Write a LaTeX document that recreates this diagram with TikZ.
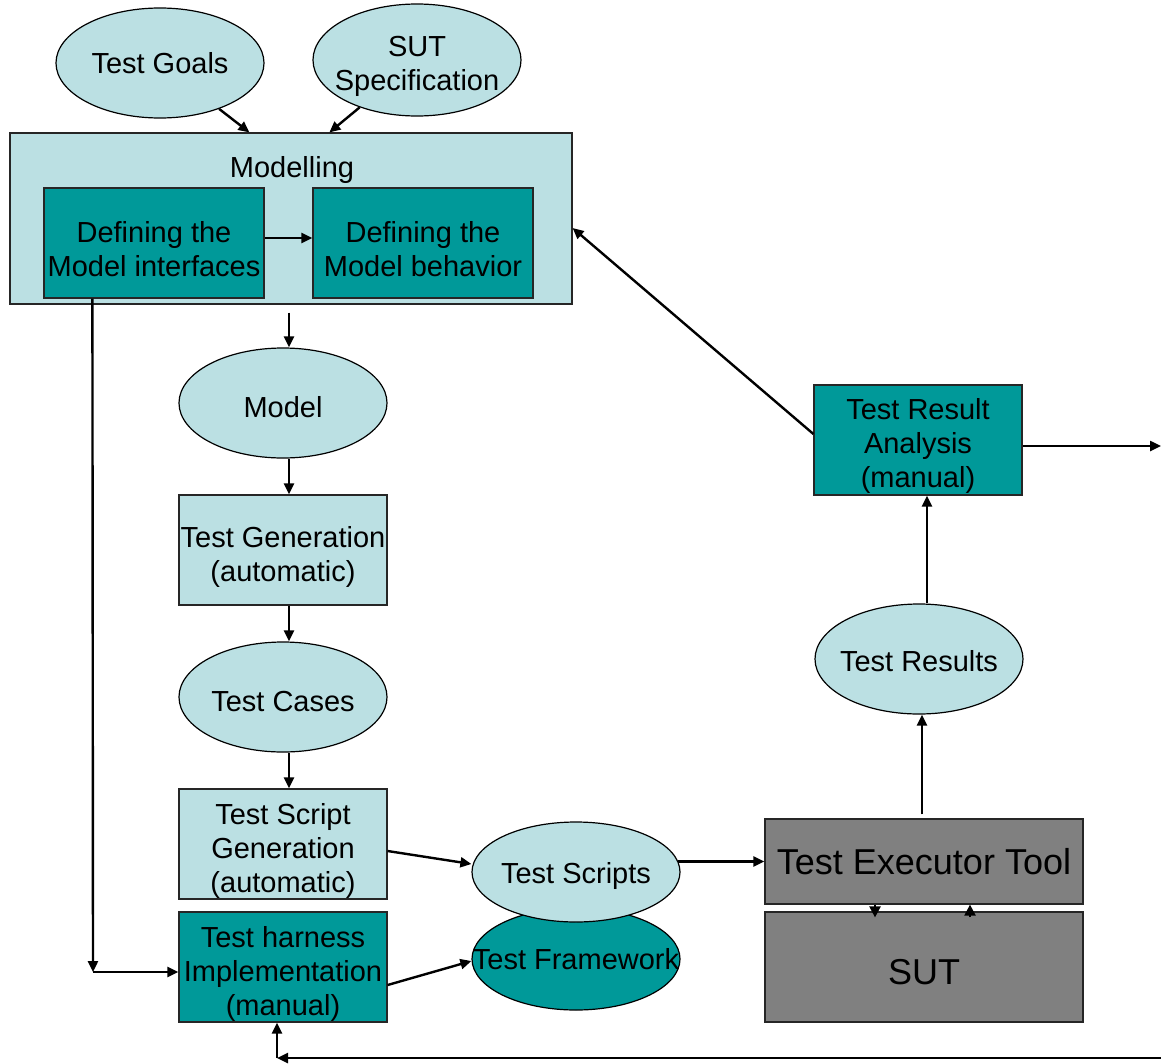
\documentclass[tikz,border=0pt]{standalone}
\usepackage{fontspec}
\setmainfont{Liberation Sans}
\usetikzlibrary{shapes.geometric,arrows.meta}
\definecolor{lightc}{HTML}{BBE0E3}
\definecolor{tealc}{HTML}{009999}
\definecolor{grayc}{HTML}{808080}
\newcommand{\dn}[1]{\rule{0pt}{#1}}
\tikzset{
  txt/.style={font=\fontsize{29}{34}\selectfont, align=center, inner sep=0pt},
  ell/.style={ellipse, draw=black, line width=1.2pt, txt, inner xsep=-45pt, inner ysep=-25pt, minimum width=208pt, minimum height=110pt},
  lbox/.style={rectangle, draw=black!85, line width=1.2pt, fill=lightc, txt, minimum width=208pt, minimum height=110pt},
  tbox/.style={rectangle, draw=black!85, line width=1.2pt, fill=tealc, txt, minimum width=208pt, minimum height=110pt},
  gbox/.style={rectangle, draw=black!85, line width=1.2pt, fill=grayc, font=\fontsize{36}{42}\selectfont, inner sep=0pt, minimum width=318pt},
  arr/.style={line width=2.4pt, -{Triangle[length=11pt,width=10pt]}},
  sarr/.style={line width=2.2pt, -{Triangle[length=11pt,width=11pt]}},
}
\begin{document}
\begin{tikzpicture}[x=1pt,y=-1pt]
\useasboundingbox (0,0) rectangle (1161,1063);
% top inputs
\node[ell, fill=lightc] (goals) at (160,63) {Test Goals};
\node[ell, fill=lightc, minimum height=112pt] (spec) at (417,60) {\dn{33pt}SUT\\Specification};
% modelling
\node[rectangle, draw=black!85, line width=1.2pt, fill=lightc, minimum width=562pt, minimum height=171pt, inner sep=0pt] (modelling) at (291,218.5) {};
\node[txt] (modtxt) at (292,170) {Modelling};
\node[tbox, minimum width=220pt] (iface) at (154,243) {\dn{33pt}Defining the\\Model interfaces};
\node[tbox, minimum width=220pt] (behav) at (423,243) {\dn{33pt}Defining the\\Model behavior};
% left column
\node[ell, fill=lightc] (model) at (283,403) {\dn{29pt}Model};
\node[lbox] (gen) at (283,550) {\dn{34pt}Test Generation\\(automatic)};
\node[ell, fill=lightc] (cases) at (283,697) {\dn{29pt}Test Cases};
\node[lbox] (sgen) at (283,844) {\dn{34pt}Test Script\\Generation\\(automatic)};
\node[tbox] (harness) at (283,967) {\dn{34pt}Test harness\\Implementation\\(manual)};
% middle
\node[ell, fill=tealc, minimum height=102pt] (frame) at (576,959) {Test Framework};
\node[ell, fill=lightc, minimum height=100pt] (scripts) at (576,872) {\dn{29pt}Test Scripts};
% right
\node[gbox, minimum height=85pt] (exec) at (924,861.5) {Test Executor Tool};
\node[gbox, minimum height=110pt] (sut) at (924,967) {\dn{36pt}SUT};
\node[ell, fill=lightc] (results) at (919,659) {\dn{25pt}Test Results};
\node[tbox] (analysis) at (918,440) {\dn{33pt}Test Result\\Analysis\\(manual)};
% coordinates
\coordinate (c1) at (93,972);
\coordinate (outR) at (1161,446);
\coordinate (inR) at (1161,1058);
\coordinate (c2) at (277,1058);
% connectors
\draw[arr] (goals) -- ([xshift=240pt]modelling.north west);
\draw[arr] (spec) -- ([xshift=320pt]modelling.north west);
\draw[arr] ([yshift=5pt]iface.east) -- ([yshift=5pt]behav.west);
\draw[arr] ([xshift=-2pt,yshift=-8pt]modelling.south) -- ([xshift=-2pt]modelling.south |- model.north);
\draw[arr] ([xshift=6pt]model.south) -- ([xshift=6pt]gen.north);
\draw[arr] ([xshift=6pt]gen.south) -- ([xshift=6pt]cases.north);
\draw[arr] ([xshift=6pt]cases.south) -- ([xshift=6pt]sgen.north);
\draw[arr] ([xshift=49pt]iface.south west) -- (c1);
\draw[arr] (c1) -- (c1 -| harness.west);
\draw[arr] ([yshift=-7pt]sgen.east) -- ([yshift=8pt]scripts.west);
\draw[arr] ([yshift=-18pt]harness.east) -- ([yshift=-2pt]frame.west);
\draw[arr] ([xshift=-3pt]scripts.east |- exec.west) -- (exec.west);
\draw[sarr] ([xshift=-49pt]exec.south) -- ([xshift=-49pt,yshift=-6pt]sut.north);
\draw[sarr] ([xshift=46pt,yshift=-6pt]sut.north) -- ([xshift=46pt]exec.south);
\draw[arr] ([xshift=-2pt,yshift=4pt]exec.north) -- ([xshift=-2pt]exec.north |- results.south);
\draw[arr] ([xshift=8pt]results.north) -- ([xshift=9pt]analysis.south);
\draw[arr] (analysis.east |- outR) -- (outR);
\draw[arr] ([yshift=6pt]analysis.west) -- ([yshift=-9.5pt]modelling.east);
\draw[arr] (inR) -- (c2);
\draw[arr] (c2) -- (c2 |- harness.south);
\end{tikzpicture}
\end{document}
